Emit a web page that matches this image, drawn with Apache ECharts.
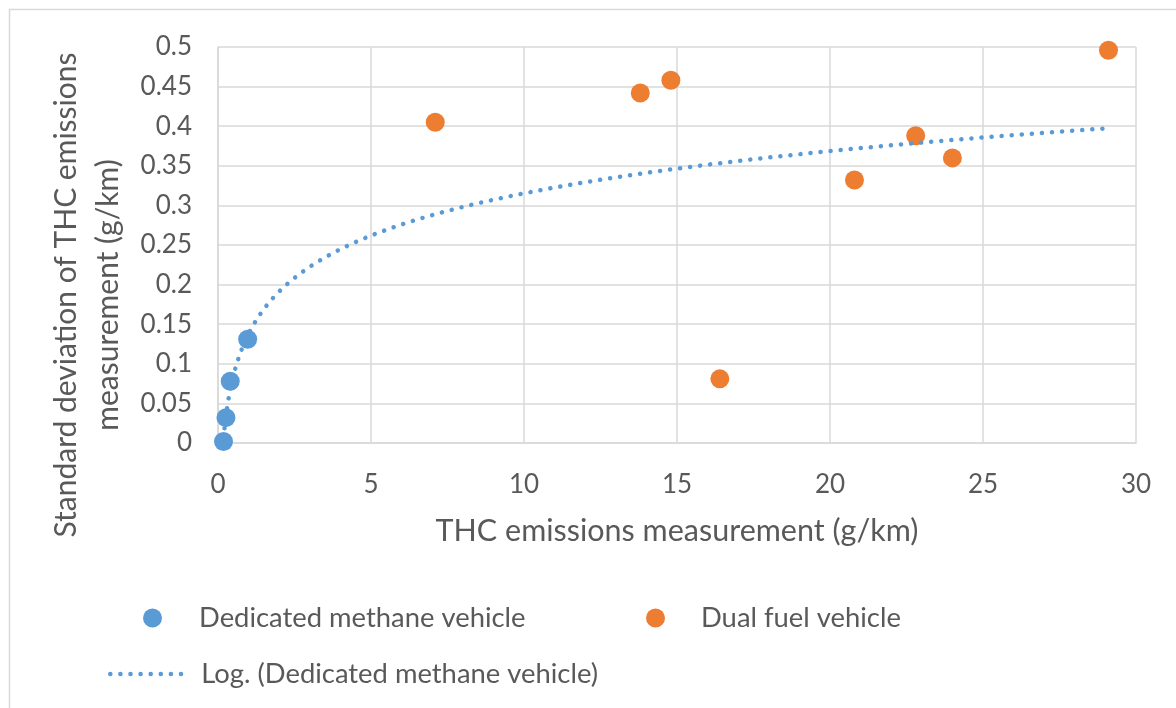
<!DOCTYPE html>
<html>
<head>
<meta charset="utf-8">
<script type="text/javascript" src="https://cdn.jsdelivr.net/npm/echarts@6/dist/echarts.min.js"></script>
<style>
  body { margin: 0; background: #fff; }
</style>
</head>
<body>
<div id="main" style="width:1176px;height:708px;"></div>
<script type="text/javascript">
// values
var methaneX = [0.18, 0.26, 0.40, 0.97];
var methaneY = [0.002, 0.032, 0.078, 0.131];
var dualX = [7.1, 13.8, 14.8, 16.4, 20.8, 22.8, 24.0, 29.1];
var dualY = [0.405, 0.442, 0.458, 0.081, 0.332, 0.388, 0.360, 0.496];
var trendForward = 28; // excel "forecast forward" periods

var nameMethane = 'Dedicated methane vehicle';
var nameDual = 'Dual fuel vehicle';
var nameTrend = 'Log. (Dedicated methane vehicle)';

var textColor = '#595959';
var fontName = 'Lato';

function pairs(xs, ys) {
  var out = [];
  for (var i = 0; i < xs.length; i++) out.push([xs[i], ys[i]]);
  return out;
}

// least squares fit y = a*ln(x) + b on the methane series (like excel's log trendline)
function logFit(xs, ys) {
  var n = xs.length, sl = 0, sy = 0;
  for (var i = 0; i < n; i++) { sl += Math.log(xs[i]); sy += ys[i]; }
  var ml = sl / n, my = sy / n, sxy = 0, sxx = 0;
  for (var j = 0; j < n; j++) {
    var d = Math.log(xs[j]) - ml;
    sxy += d * (ys[j] - my);
    sxx += d * d;
  }
  var a = sxy / sxx;
  return { a: a, b: my - a * ml };
}

var fit = logFit(methaneX, methaneY);
var trendStart = Math.min.apply(null, methaneX);
var trendEnd = Math.max.apply(null, methaneX) + trendForward;
var trendData = [];
for (var k = 0; k <= 300; k++) {
  // log spaced so the steep start stays smooth
  var x = trendStart * Math.pow(trendEnd / trendStart, k / 300);
  trendData.push([x, fit.a * Math.log(x) + fit.b]);
}

var myChart = echarts.init(document.getElementById('main'));

var legendText = { color: textColor, fontFamily: fontName, fontSize: 27.4, lineHeight: 30 };
var dotLine = { color: '#5b9bd5', width: 4.5, type: [0.1, 10], cap: 'round' };

var option = {
  animation: false,
  backgroundColor: '#fff',
  graphic: [{
    type: 'rect',
    shape: { x: 9.5, y: 9.5, width: 1200, height: 720 },
    style: { fill: 'none', stroke: '#d9d9d9', lineWidth: 1.5 },
    silent: true
  }],
  grid: { left: 218, right: 40, top: 47, bottom: 265, outerBoundsMode: 'none' },
  legend: [
    {
      data: [nameMethane], left: 138, top: 598,
      icon: 'circle', itemWidth: 19, itemHeight: 19,
      textStyle: Object.assign({ padding: [0, 0, 0, 32] }, legendText)
    },
    {
      data: [nameDual], left: 641, top: 598,
      icon: 'circle', itemWidth: 19, itemHeight: 19,
      textStyle: Object.assign({ padding: [0, 0, 0, 31] }, legendText)
    },
    {
      data: [nameTrend], left: 103, top: 654,
      itemWidth: 80, itemHeight: 19,
      itemStyle: { opacity: 0 },
      lineStyle: dotLine,
      textStyle: Object.assign({ padding: [0, 0, 0, 6] }, legendText)
    }
  ],
  xAxis: {
    type: 'value',
    min: 0, max: 30, interval: 5,
    name: 'THC emissions measurement (g/km)',
    nameLocation: 'middle',
    nameGap: 70,
    nameTextStyle: { color: textColor, fontFamily: fontName, fontSize: 30.5, lineHeight: 36 },
    axisLine: { lineStyle: { color: '#d9d9d9', width: 1.5 } },
    axisTick: { show: false },
    axisLabel: { color: textColor, fontFamily: fontName, fontSize: 26, margin: 29 },
    splitLine: { lineStyle: { color: '#d9d9d9', width: 1.5 } }
  },
  yAxis: {
    type: 'value',
    min: 0, max: 0.5, interval: 0.05,
    name: 'Standard deviation of THC emissions\nmeasurement (g/km)',
    nameLocation: 'middle',
    nameGap: 78,
    nameTextStyle: {
      color: textColor, fontFamily: fontName, fontSize: 30, lineHeight: 42,
      padding: [0, 100, 0, 0]
    },
    axisLine: { show: true, lineStyle: { color: '#d9d9d9', width: 1.5 } },
    axisTick: { show: false },
    axisLabel: { color: textColor, fontFamily: fontName, fontSize: 26, margin: 26 },
    splitLine: { lineStyle: { color: '#d9d9d9', width: 1.5 } }
  },
  series: [
    {
      name: nameMethane,
      type: 'scatter',
      symbolSize: 19,
      itemStyle: { color: '#5b9bd5', opacity: 1 },
      data: pairs(methaneX, methaneY),
      z: 2
    },
    {
      name: nameDual,
      type: 'scatter',
      symbolSize: 19,
      itemStyle: { color: '#ed7d31', opacity: 1 },
      data: pairs(dualX, dualY),
      z: 2
    },
    {
      name: nameTrend,
      type: 'line',
      showSymbol: false,
      symbol: 'none',
      silent: true,
      lineStyle: dotLine,
      itemStyle: { color: '#5b9bd5' },
      data: trendData,
      z: 3
    }
  ]
};

myChart.setOption(option);
</script>
</body>
</html>
